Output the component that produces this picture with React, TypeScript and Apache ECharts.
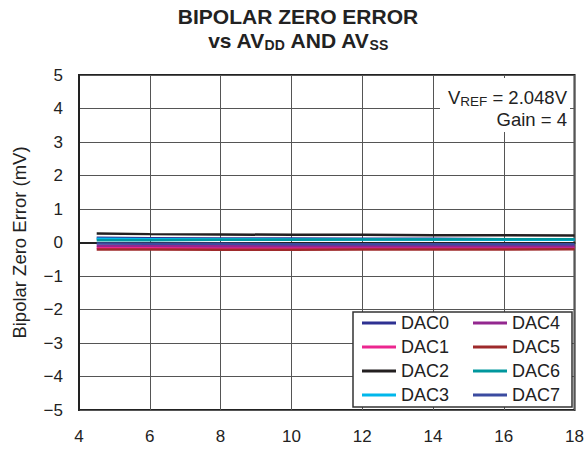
import React, { useEffect, useRef } from "react";
import * as echarts from "echarts";

const supplyV = [4.5, 6, 8, 10, 12, 14, 16, 18];
const dac0 = [0.14, 0.13, 0.12, 0.12, 0.11, 0.11, 0.1, 0.1];
const dac1 = [-0.16, -0.16, -0.16, -0.16, -0.16, -0.16, -0.16, -0.16];
const dac2 = [0.27, 0.25, 0.24, 0.23, 0.23, 0.22, 0.22, 0.21];
const dac3 = [0.11, 0.1, 0.1, 0.09, 0.09, 0.09, 0.08, 0.08];
const dac4 = [-0.1, -0.1, -0.11, -0.11, -0.11, -0.11, -0.11, -0.11];
const dac5 = [-0.21, -0.21, -0.22, -0.22, -0.21, -0.21, -0.21, -0.2];
const dac6 = [0.07, 0.07, 0.08, 0.08, 0.09, 0.09, 0.1, 0.1];
const dac7 = [-0.03, -0.04, -0.04, -0.05, -0.05, -0.05, -0.05, -0.05];

const seriesNames = ["DAC0", "DAC1", "DAC2", "DAC3", "DAC4", "DAC5", "DAC6", "DAC7"];
const seriesValues = [dac0, dac1, dac2, dac3, dac4, dac5, dac6, dac7];
const seriesColors = ["#2E3192", "#EC268F", "#231F20", "#00B7EB", "#93278F", "#9E2A2B", "#00979D", "#3B4BA0"];

const FONT = "'Liberation Sans', Arial, Helvetica, sans-serif";

export default function App() {
  const ref = useRef<HTMLDivElement>(null);
  useEffect(() => {
    if (!ref.current) return;
    const chart = echarts.init(ref.current, undefined, { renderer: "svg" });
    const series = seriesNames.map((name, i) => ({
      name,
      type: "line",
      data: supplyV.map((x, j) => [x, seriesValues[i][j]]),
      showSymbol: false,
      symbol: "none",
      lineStyle: { color: seriesColors[i], width: 2.5 },
      itemStyle: { color: seriesColors[i] },
      z: 2,
    }));
    const legendCommon = {
      orient: "vertical",
      icon: "rect",
      itemWidth: 34,
      itemHeight: 3,
      itemGap: 4,
      top: 308,
      padding: 5,
      z: 6,
      textStyle: { fontFamily: FONT, fontSize: 18, color: "#222", lineHeight: 20 },
    };
    chart.setOption({
      animation: false,
      textStyle: { fontFamily: FONT },
      title: {
        left: 298,
        top: 4,
        padding: 0,
        textAlign: "center",
        text: "{b|BIPOLAR ZERO ERROR}\n{b|vs AV}{s|DD}{b| AND AV}{s|SS}",
        textStyle: {
          rich: {
            b: { fontFamily: FONT, fontSize: 21, fontWeight: "bold", color: "#222", lineHeight: 24 },
            s: { fontFamily: FONT, fontSize: 14, fontWeight: "bold", color: "#222", lineHeight: 14, verticalAlign: "bottom" },
          },
        },
      },
      grid: {
        left: 79,
        right: 12,
        top: 75,
        bottom: 41,
        show: true,
        borderColor: "#222",
        borderWidth: 2,
        backgroundColor: "transparent",
      },
      xAxis: {
        type: "value",
        min: 4,
        max: 18,
        interval: 2,
        axisLine: { show: true, lineStyle: { color: "#222", width: 2 } },
        axisTick: { show: false },
        axisLabel: { fontFamily: FONT, fontSize: 17, color: "#222", margin: 18 },
        splitLine: { show: true, lineStyle: { color: "#555", width: 1 } },
      },
      yAxis: {
        type: "value",
        min: -5,
        max: 5,
        interval: 1,
        name: "Bipolar Zero Error (mV)",
        nameLocation: "middle",
        nameGap: 50,
        nameTextStyle: { fontFamily: FONT, fontSize: 18.5, color: "#222" },
        axisLine: { show: true, lineStyle: { color: "#222", width: 2 } },
        axisTick: { show: false },
        axisLabel: {
          fontFamily: FONT,
          fontSize: 17,
          color: "#222",
          margin: 16,
          formatter: (v: number) => String(v).replace("-", "\u2212"),
        },
        splitLine: { show: true, lineStyle: { color: "#555", width: 1 } },
      },
      legend: [
        { ...legendCommon, left: 357, data: seriesNames.slice(0, 4) },
        { ...legendCommon, left: 468, data: seriesNames.slice(4, 8) },
      ],
      graphic: [
        {
          type: "rect",
          z: 5,
          shape: { x: 353, y: 312, width: 219, height: 95 },
          style: { fill: "#fff", stroke: "#333", lineWidth: 1.5 },
        },
        {
          type: "rect",
          z: 5,
          shape: { x: 440, y: 78, width: 130, height: 54 },
          style: { fill: "#fff" },
        },
        {
          type: "text",
          z: 6,
          x: 567,
          y: 97,
          style: {
            text: "{v|V}{s|REF}{v| = 2.048V}",
            align: "right",
            verticalAlign: "middle",
            rich: {
              v: { fontFamily: FONT, fontSize: 18.5, fill: "#222", lineHeight: 22 },
              s: { fontFamily: FONT, fontSize: 13.5, fill: "#222", lineHeight: 13, verticalAlign: "bottom" },
            },
          },
        },
        {
          type: "text",
          z: 6,
          x: 567,
          y: 119,
          style: {
            text: "Gain = 4",
            align: "right",
            verticalAlign: "middle",
            fontFamily: FONT,
            fontSize: 18.5,
            fill: "#222",
          },
        },
      ],
      series,
    });
    return () => chart.dispose();
  }, []);
  return (
    <div
      ref={ref}
      style={{ position: "fixed", left: 0, top: 0, width: 587, height: 451, background: "#fff" }}
    />
  );
}
